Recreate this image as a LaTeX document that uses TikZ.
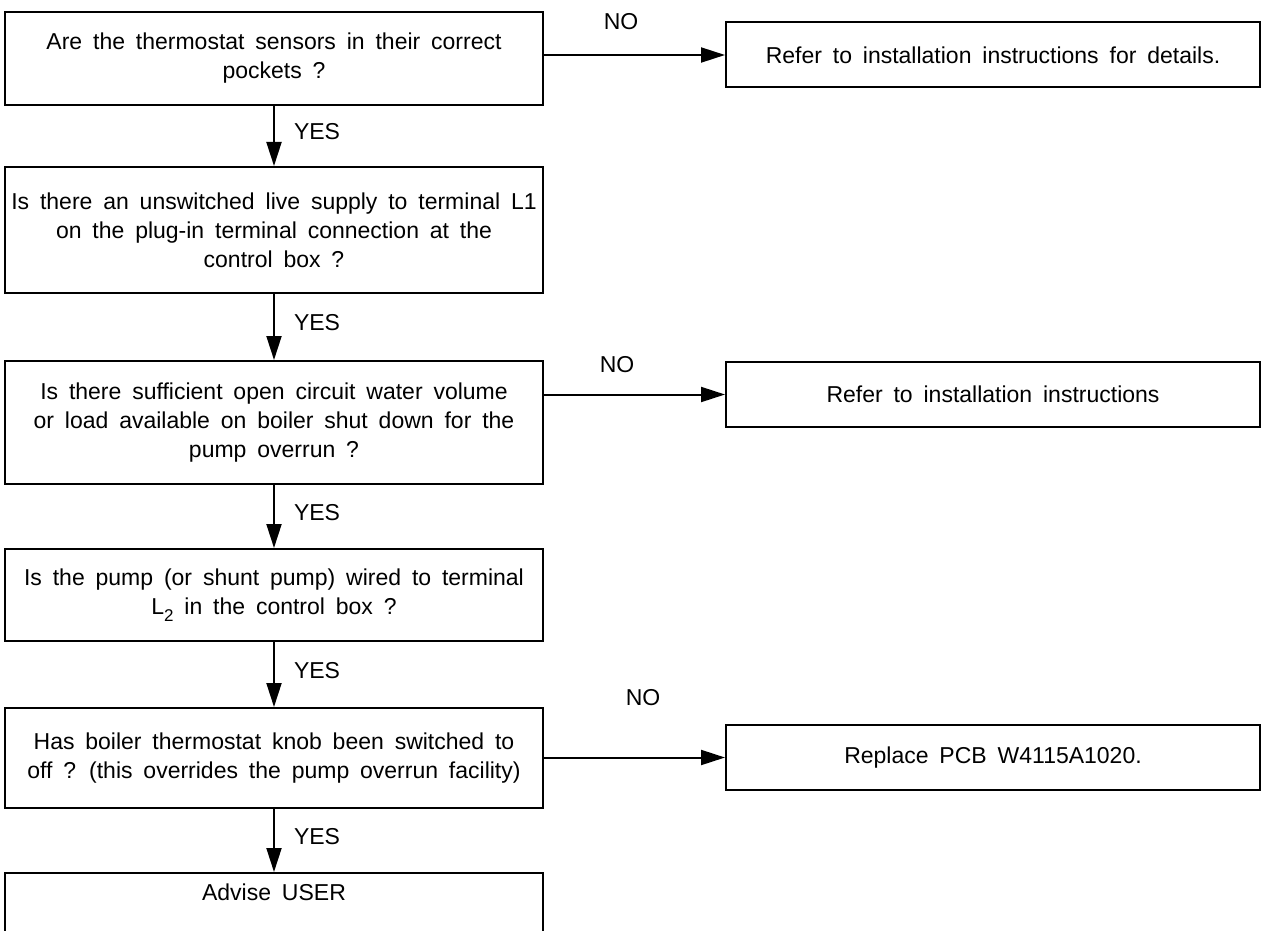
\documentclass[tikz,border=0pt]{standalone}
\usepackage{fontspec}
\setmainfont{Liberation Sans}[WordSpace=1.7]
\usetikzlibrary{arrows.meta,positioning}

\begin{document}
\begin{tikzpicture}[x=1pt,y=-1pt,
  pergunta/.style={draw,line width=2pt,align=center,minimum width=538pt,inner sep=0pt,font=\fontsize{23}{29}\selectfont},
  acao/.style={draw,line width=2pt,align=center,minimum width=534pt,minimum height=65pt,inner sep=0pt,font=\fontsize{23}{29}\selectfont},
  rotulo/.style={inner sep=0pt,font=\fontsize{23}{29}\selectfont},
  seta/.style={-{Triangle[length=24pt,width=15pt]},line width=2pt}
]
\useasboundingbox (0,0) rectangle (1263,931);
\clip (0,0) rectangle (1263,931);

\node[pergunta,minimum height=93pt] (sensores) at (274,58.5)
  {Are the thermostat sensors in their correct\\pockets ?};
\node[pergunta,minimum height=126pt] (alimentacao) at (274,230)
  {Is there an unswitched live supply to terminal L1\\on the plug-in terminal connection at the\\control box ?};
\node[pergunta,minimum height=123pt] (volume) at (274,422.5)
  {Is there sufficient open circuit water volume\\or load available on boiler shut down for the\\pump overrun ?};
\node[pergunta,minimum height=92pt] (bomba) at (274,595)
  {Is the pump (or shunt pump) wired to terminal\\L{\fontsize{17}{17}\selectfont\raisebox{-7pt}{2}} in the control box ?};
\node[pergunta,minimum height=100pt] (termostato) at (274,758)
  {Has boiler thermostat knob been switched to\\off ? (this overrides the pump overrun facility)};
% last box runs off the bottom of the page
\node[pergunta,anchor=north,text height=24pt,text depth=64pt,inner ysep=3pt] (usuario) at (274,872)
  {Advise USER};

\node[acao] (detalhes) at (993,55) {Refer to installation instructions for details.};
\node[acao] (instrucoes) at (993,394.5) {Refer to installation instructions};
\node[acao] (placa) at (993,757.5) {Replace PCB W4115A1020.};

\draw[seta] (sensores) -- node[rotulo,anchor=west,xshift=19pt,yshift=4pt] (sim1) {YES} (alimentacao);
\draw[seta] (alimentacao) -- node[rotulo,anchor=west,xshift=19pt,yshift=4pt] (sim2) {YES} (volume);
\draw[seta] (volume) -- node[rotulo,anchor=west,xshift=19pt,yshift=4pt] (sim3) {YES} (bomba);
\draw[seta] (bomba) -- node[rotulo,anchor=west,xshift=19pt,yshift=4pt] (sim4) {YES} (termostato);
\draw[seta] (termostato) -- node[rotulo,anchor=west,xshift=19pt,yshift=4pt] (sim5) {YES} (usuario);

\draw[seta] (sensores.east |- detalhes.west) -- (detalhes.west);
\draw[seta] (volume.east |- instrucoes.west) -- (instrucoes.west);
\draw[seta] (termostato.east |- placa.west) -- (placa.west);
\node[rotulo] (nao1) at (621,22) {NO};
\node[rotulo] (nao2) at (617,365) {NO};
\node[rotulo] (nao3) at (643,698) {NO};
\end{tikzpicture}
\end{document}
